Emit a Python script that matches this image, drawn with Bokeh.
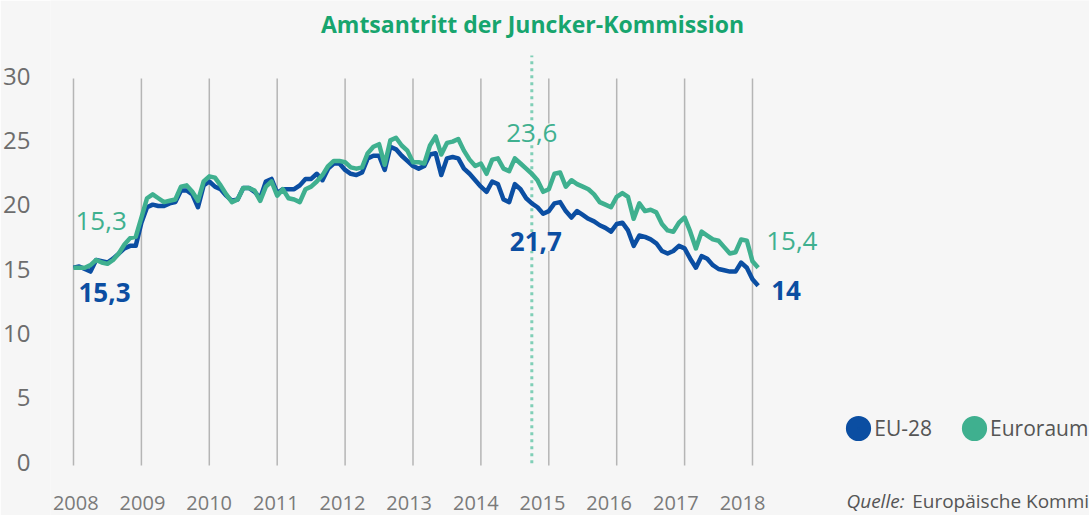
from bokeh.plotting import figure
from bokeh.models import Range1d, FixedTicker, Label, Legend, LegendItem
from bokeh.core.properties import value
from bokeh.embed import file_html
from bokeh.resources import INLINE

# ---------------- data (monthly, Jan 2008 - Feb 2018) ----------------
years = list(range(2008, 2019))
year_labels = [str(y) for y in years]
yticks = [0, 5, 10, 15, 20, 25, 30]

eu28 = [
    15.1, 15.2, 15.0, 14.8, 15.7, 15.6, 15.5, 15.8, 16.2, 16.6, 16.8, 16.8,   # 2008
    18.6, 19.8, 20.0, 19.9, 19.9, 20.1, 20.2, 21.1, 21.1, 20.8, 19.8, 21.5,   # 2009
    21.8, 21.4, 21.2, 20.7, 20.3, 20.4, 21.3, 21.3, 21.0, 20.5, 21.8, 22.0,   # 2010
    20.9, 21.2, 21.2, 21.2, 21.5, 22.0, 22.0, 22.4, 21.9, 22.8, 23.2, 23.2,   # 2011
    22.7, 22.4, 22.3, 22.5, 23.6, 23.8, 23.8, 22.7, 24.5, 24.3, 23.8, 23.4,   # 2012
    23.0, 22.8, 23.0, 23.9, 24.0, 22.3, 23.6, 23.7, 23.6, 22.8, 22.4, 21.9,   # 2013
    21.4, 21.0, 21.8, 21.6, 20.4, 20.2, 21.6, 21.2, 20.5, 20.1, 19.8, 19.3,   # 2014
    19.5, 20.1, 20.2, 19.5, 19.0, 19.5, 19.2, 18.9, 18.7, 18.4, 18.2, 17.9,   # 2015
    18.5, 18.6, 18.0, 16.8, 17.6, 17.5, 17.3, 17.0, 16.4, 16.2, 16.4, 16.8,   # 2016
    16.6, 15.8, 15.1, 16.0, 15.8, 15.3, 15.0, 14.9, 14.8, 14.8, 15.5, 15.1,   # 2017
    14.2, 13.7,                                                               # 2018
]
euroraum = [
    15.1, 15.1, 15.1, 15.3, 15.7, 15.5, 15.4, 15.7, 16.2, 16.9, 17.4, 17.5,   # 2008
    19.0, 20.5, 20.8, 20.5, 20.2, 20.3, 20.4, 21.4, 21.5, 21.0, 20.3, 21.8,   # 2009
    22.2, 22.1, 21.5, 20.8, 20.2, 20.4, 21.3, 21.3, 21.1, 20.3, 21.4, 21.8,   # 2010
    20.7, 21.2, 20.5, 20.4, 20.2, 21.2, 21.4, 21.8, 22.3, 23.0, 23.4, 23.4,   # 2011
    23.3, 22.9, 22.8, 22.9, 24.0, 24.5, 24.7, 23.1, 25.0, 25.2, 24.6, 24.2,   # 2012
    23.3, 23.3, 23.2, 24.6, 25.3, 23.9, 24.8, 24.9, 25.1, 24.2, 23.5, 23.0,   # 2013
    23.2, 22.4, 23.5, 23.6, 22.8, 22.6, 23.6, 23.2, 22.8, 22.4, 21.9, 21.0,   # 2014
    21.2, 22.4, 22.5, 21.4, 21.9, 21.6, 21.4, 21.2, 20.8, 20.2, 20.0, 19.8,   # 2015
    20.6, 20.9, 20.6, 18.9, 20.1, 19.5, 19.6, 19.4, 18.5, 18.0, 17.9, 18.6,   # 2016
    19.0, 17.9, 16.6, 17.9, 17.6, 17.3, 17.2, 16.7, 16.2, 16.3, 17.3, 17.2,   # 2017
    15.6, 15.1,                                                               # 2018
]
months = [2008 + i / 12 for i in range(len(eu28))]

juncker_date = 2014.75
title_text = "Amtsantritt der Juncker-Kommission"
eu_labels = ["15,3", "21,7", "14"]
euro_labels = ["15,3", "23,6", "15,4"]
legend_labels = ["EU-28", "Euroraum"]
source_prefix = "Quelle:"
source_text = "Europäische Kommission"

# ---------------- styles ----------------
BG = "#f6f6f6"
BLUE = "#0b4ea2"
GREEN = "#3fb08f"
TITLE_GREEN = "#17a56e"
FONT = "Open Sans"

p = figure(width=1089, height=515, output_backend="svg", toolbar_location=None,
           x_axis_type=None,
           x_range=Range1d(2007.6613, 2022.9632), y_range=Range1d(-4.158, 35.868),
           min_border_left=50, min_border_right=0, min_border_top=0, min_border_bottom=0)
p.extra_x_ranges = {"lab": Range1d(2007.6205, 2023.2047)}
p.background_fill_color = BG
p.border_fill_color = BG
p.outline_line_color = None
p.xgrid.visible = False
p.ygrid.visible = False

# y axis
p.yaxis.ticker = FixedTicker(ticks=yticks)
p.yaxis.axis_line_color = None
p.yaxis.major_tick_line_color = None
p.yaxis.minor_tick_line_color = None
p.yaxis.major_label_standoff = 14
p.yaxis.major_label_text_font = FONT
p.yaxis.major_label_text_font_size = "24px"
p.yaxis.major_label_text_color = "#6d6d6d"

# year labels along the bottom
p.text(x=years, y=-3.15, text=year_labels, x_range_name="lab",
       text_align="center", text_baseline="middle", text_font=value(FONT),
       text_font_size="20px", text_color="#7a7a7a")

# vertical year lines
p.segment(x0=years, y0=-0.27, x1=years, y1=29.8, line_color="#b5b5b5", line_width=1.5)

# dotted line: Juncker Commission
p.segment(x0=[juncker_date], y0=[-0.1], x1=[juncker_date], y1=[31.6],
          line_color="#80cfb7", line_width=3, line_dash="3 4")

# data lines
p.line(months, eu28, line_color=BLUE, line_width=4.5, line_join="round")
p.line(months, euroraum, line_color=GREEN, line_width=4.5, line_join="round")

# value labels
def add_label(text, x, y, color, align, xo, yo, bold=False, bg=None):
    lab = Label(x=x, y=y, text=text, x_offset=xo, y_offset=yo, text_align=align,
                text_baseline="middle", text_font=FONT, text_font_size="26px",
                text_color=color, text_font_style="bold" if bold else "normal")
    if bg is not None:
        lab.background_fill_color = bg
    p.add_layout(lab)

add_label(euro_labels[0], months[0], euroraum[0], GREEN, "left", 2, 47)
add_label(eu_labels[0], months[0], eu28[0], BLUE, "left", 5, -24.5, bold=True)
add_label(euro_labels[1], juncker_date, 23.6, GREEN, "center", 0, 25.8, bg=BG)
add_label(eu_labels[1], juncker_date, 21.7, BLUE, "center", 4, -58.7, bold=True, bg=BG)
add_label(euro_labels[2], months[-1], euroraum[-1], GREEN, "left", 8, 27)
add_label(eu_labels[2], months[-1], eu28[-1], BLUE, "left", 13, -5, bold=True)

# title
p.add_layout(Label(x=482, y=491.5, x_units="screen", y_units="screen", text=title_text,
                   text_align="center", text_baseline="middle", text_font=FONT,
                   text_font_size="23px", text_font_style="bold", text_color=TITLE_GREEN))

# legend (hidden marker renderers used only as legend glyphs)
r1 = p.scatter(x=months, y=eu28, size=1, fill_color=BLUE, line_color=BLUE,
               line_width=14, visible=False)
r2 = p.scatter(x=months, y=euroraum, size=1, fill_color=GREEN, line_color=GREEN,
               line_width=14, visible=False)
legend = Legend(items=[LegendItem(label=legend_labels[0], renderers=[r1]),
                       LegendItem(label=legend_labels[1], renderers=[r2])],
                orientation="horizontal", location=(794.3, 72.7),
                glyph_width=28, glyph_height=28, label_standoff=2, spacing=28,
                label_height=28, padding=0, margin=0, border_line_color=None,
                background_fill_alpha=0, click_policy="none",
                label_text_font=FONT, label_text_font_size="21px",
                label_text_color="#555555")
p.add_layout(legend)

# source
p.add_layout(Label(x=796, y=15, x_units="screen", y_units="screen", text=source_prefix,
                   text_font=FONT, text_font_size="19px", text_font_style="italic",
                   text_color="#555555", text_baseline="middle"))
p.add_layout(Label(x=861.7, y=15, x_units="screen", y_units="screen", text=source_text,
                   text_font=FONT, text_font_size="19px",
                   text_color="#555555", text_baseline="middle"))

open("out.html", "w").write(file_html(p, INLINE))
